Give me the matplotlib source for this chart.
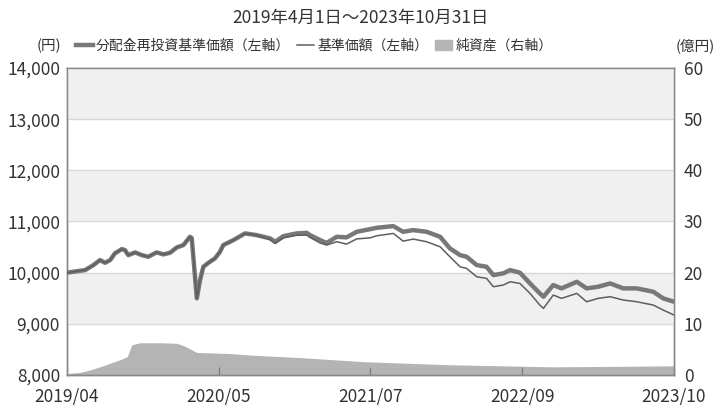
import matplotlib
matplotlib.use("Agg")
import matplotlib.pyplot as plt
import matplotlib.dates as mdates
from matplotlib.lines import Line2D
from matplotlib.patches import Patch
import numpy as np
import pandas as pd

plt.rcParams['font.family'] = ['Noto Sans CJK JP', 'DejaVu Sans']

# 基準価額データ（円）
dates = ["2019-04-01", "2019-05-07", "2019-05-21", "2019-06-13", "2019-07-01",
         "2019-07-15", "2019-07-29", "2019-08-11", "2019-08-30", "2019-09-08",
         "2019-09-17", "2019-10-06", "2019-10-24", "2019-11-11", "2019-12-04",
         "2019-12-23", "2020-01-10", "2020-01-29", "2020-02-16", "2020-03-05",
         "2020-03-10", "2020-03-19", "2020-03-24", "2020-04-02", "2020-04-11",
         "2020-04-25", "2020-05-13", "2020-05-27", "2020-06-05", "2020-07-03",
         "2020-08-04", "2020-09-05", "2020-10-12", "2020-10-26", "2020-11-18",
         "2020-12-24", "2021-01-21", "2021-01-30", "2021-02-27", "2021-03-17",
         "2021-04-14", "2021-05-11", "2021-06-08", "2021-07-15", "2021-08-02",
         "2021-09-17", "2021-10-14", "2021-11-11", "2021-12-18", "2022-01-24",
         "2022-02-20", "2022-03-20", "2022-04-07", "2022-05-05", "2022-06-01",
         "2022-06-20", "2022-07-17", "2022-08-05", "2022-09-01", "2022-09-29",
         "2022-10-26", "2022-11-05", "2022-12-02", "2022-12-25", "2023-02-05",
         "2023-03-04", "2023-04-05", "2023-05-08", "2023-06-13", "2023-07-20",
         "2023-09-04", "2023-10-01", "2023-10-31"]
nav_reinvest = [10000, 10037, 10050, 10148, 10246, 10193, 10246, 10377, 10461, 10441,
                10343, 10396, 10343, 10311, 10396, 10357, 10389, 10494, 10539, 10701,
                10676, 9920, 9498, 9855, 10115, 10193, 10279, 10408, 10539, 10637,
                10767, 10734, 10670, 10604, 10714, 10767, 10779, 10734, 10637, 10580,
                10701, 10690, 10799, 10850, 10877, 10910, 10799, 10832, 10799, 10701,
                10474, 10343, 10311, 10148, 10115, 9953, 9986, 10050, 10000, 9790,
                9595, 9530, 9758, 9693, 9822, 9693, 9725, 9790, 9693, 9693,
                9627, 9498, 9432]
nav = [10000, 10037, 10050, 10148, 10246, 10193, 10246, 10377, 10461, 10441,
       10343, 10396, 10343, 10311, 10396, 10357, 10389, 10494, 10539, 10701,
       10676, 9920, 9498, 9855, 10115, 10193, 10279, 10408, 10539, 10637,
       10767, 10734, 10650, 10570, 10680, 10730, 10734, 10690, 10580, 10540,
       10604, 10559, 10660, 10680, 10721, 10767, 10617, 10656, 10604, 10506,
       10311, 10115, 10083, 9920, 9888, 9725, 9758, 9822, 9790, 9595,
       9367, 9302, 9562, 9498, 9595, 9432, 9498, 9530, 9465, 9432,
       9367, 9270, 9172]

# 純資産（億円）
asset_dates = ["2019-04-01", "2019-05-07", "2019-06-04", "2019-07-01", "2019-07-29",
               "2019-08-26", "2019-09-14", "2019-09-27", "2019-10-19", "2019-12-13",
               "2020-01-29", "2020-02-21", "2020-03-24", "2020-06-23", "2020-08-17",
               "2021-01-04", "2021-06-28", "2022-02-20", "2022-11-29", "2023-06-10",
               "2023-10-31"]
net_assets = [0.3, 0.5, 1.0, 1.6, 2.3, 3.0, 3.6, 5.9, 6.3, 6.3,
              6.2, 5.6, 4.4, 4.2, 3.9, 3.4, 2.6, 2.0, 1.6, 1.7, 1.8]

tick_labels = ["2019/04", "2020/05", "2021/07", "2022/09", "2023/10"]

x = pd.to_datetime(dates)
xa = pd.to_datetime(asset_dates)

fig = plt.figure(figsize=(7.21, 4.05), dpi=100)
ax = fig.add_axes([67/721, 30/405, 607/721, 307/405])
ax2 = ax.twinx()
ax.set_zorder(2)
ax2.set_zorder(1)
ax.patch.set_visible(False)

# 背景の縞
for lo in [9000, 11000, 13000]:
    ax.axhspan(lo, lo + 1000, color='#f0f0f0', lw=0, zorder=0)
for yv in range(9000, 14000, 1000):
    ax.axhline(yv, color='#d8d8d8', lw=1, zorder=0.5)

ax2.fill_between(xa, 0, net_assets, color='#b4b4b4', lw=0)
ax.plot(x, nav_reinvest, color='#787878', lw=3.2, zorder=3, solid_joinstyle='round')
ax.plot(x, nav, color='#5e5e5e', lw=1.1, zorder=4)

x0 = mdates.date2num(pd.Timestamp("2019-04-01"))
x1 = mdates.date2num(pd.Timestamp("2023-10-31"))
ax.set_xlim(x0, x1)
ax.set_ylim(8000, 14000)
ax2.set_ylim(0, 60)
ax.set_xticks(np.linspace(x0, x1, 5))
ax.set_xticklabels(tick_labels)
ax.set_yticks(range(8000, 14001, 1000))
ax.set_yticklabels([f"{v:,}" for v in range(8000, 14001, 1000)])
ax2.set_yticks(range(0, 61, 10))

ax.tick_params(axis='x', direction='in', length=6, color='#777777', labelsize=12.5,
               labelcolor='#333333', pad=9)
ax.tick_params(axis='y', length=0, labelsize=12.5, labelcolor='#333333', pad=5)
ax2.tick_params(axis='y', length=0, labelsize=12.5, labelcolor='#333333', pad=7)
for a in (ax, ax2):
    for s in a.spines.values():
        s.set_color('#888888')
        s.set_linewidth(1)

fig.text(0.5, 1 - 18/405, "2019年4月1日～2023年10月31日", ha='center', va='center',
         fontsize=12.5, color='#333333')
fig.text(49/721, 1 - 46/405, "(円)", ha='center', va='center', fontsize=10.5, color='#333333')
fig.text(695/721, 1 - 46/405, "(億円)", ha='center', va='center', fontsize=10.5, color='#333333')

handles = [Line2D([], [], color='#787878', lw=3.2),
           Line2D([], [], color='#5e5e5e', lw=1.1),
           Patch(color='#b4b4b4')]
labels = ["分配金再投資基準価額（左軸）", "基準価額（左軸）", "純資産（右軸）"]
fig.legend(handles, labels, loc='center left', bbox_to_anchor=(76/721, 1 - 46/405),
           ncol=3, frameon=False, fontsize=10, handlelength=1.2, handletextpad=0.25,
           columnspacing=0.5, labelcolor='#333333', borderaxespad=0, borderpad=0)

fig.savefig("out.png", dpi=100)
